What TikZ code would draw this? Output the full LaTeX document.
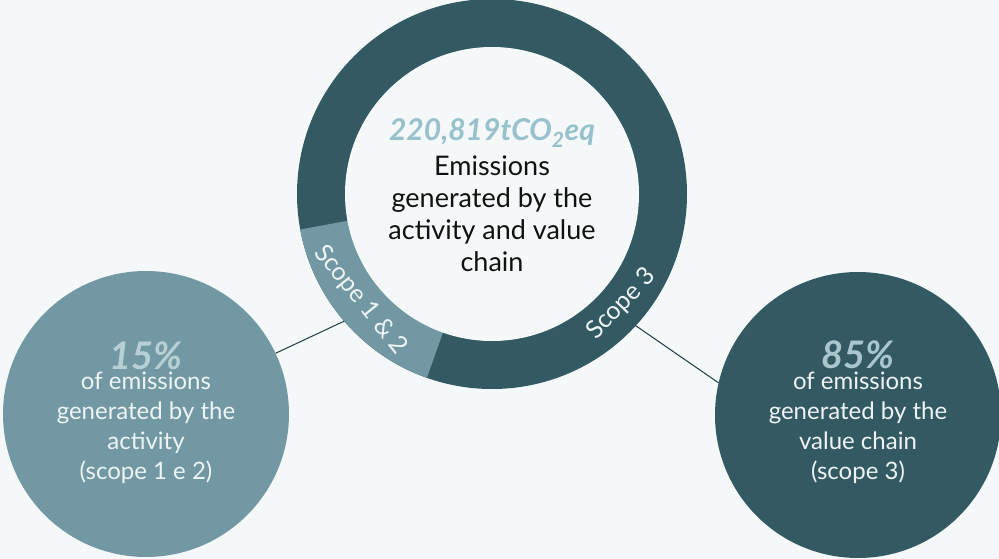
\documentclass[tikz,border=0pt]{standalone}
\usepackage{fontspec}
\setmainfont{Lato}
\usetikzlibrary{calc}
\definecolor{bg}{HTML}{F4F8F9}
\definecolor{dark}{HTML}{335963}
\definecolor{light}{HTML}{7299A3}
\definecolor{val}{HTML}{97C1CC}
\definecolor{pctl}{HTML}{B7D0D6}
\definecolor{pctd}{HTML}{A9C6CE}
\definecolor{ink}{HTML}{111111}
\definecolor{wire}{HTML}{1E3A40}
\definecolor{softwhite}{HTML}{EEF4F5}
\begin{document}
\begin{tikzpicture}[x=1pt,y=1pt,
  bubble/.style={circle, minimum size=286pt, inner sep=0pt},
  ringlabel/.style={text=softwhite, inner sep=0pt, font=\fontsize{25}{28}\selectfont},
  bubbletext/.style={text=softwhite, align=center, inner sep=0pt, font=\fontsize{24}{30}\selectfont},
  pct/.style={inner sep=0pt, font=\fontsize{38}{42}\selectfont\bfseries\itshape},
  wireline/.style={draw=wire, line width=1pt}]
\fill[bg] (0,0) rectangle (999,-559);
\useasboundingbox (0,0) rectangle (999,-559);
\coordinate (c) at (492,-194);
% donut
\fill[dark] (c) circle (195);
\fill[light] (c) -- ($(c)+(190.5:195)$) arc[start angle=190.5, end angle=250.5, radius=195] -- cycle;
\node[circle, fill=bg, minimum size=294pt, inner sep=0pt] (hole) at (c) {};
% centre texts
\node[text=val, inner sep=0pt, font=\fontsize{30}{32}\selectfont\bfseries\itshape] (total) at (492,-133) {220,819tCO\textsubscript{2}eq};
\node[text=ink, align=center, inner sep=0pt, font=\fontsize{27}{32}\selectfont] (desc) at (492,-214) {Emissions\\generated by the\\activity and value\\chain};
% ring labels
\node[ringlabel, rotate=-51] (s12) at ($(c)+(219:169)$) {Scope 1 \& 2};
\node[ringlabel, rotate=46] (s3) at ($(c)+(-40.4:170)$) {Scope 3};
% bubbles
\node[bubble, fill=light] (lb) at (146,-414) {};
\node[bubble, fill=dark] (rb) at (858,-415) {};
\node[pct, text=pctl] (lp) at (146,-356) {15\%};
\node[bubbletext] (lt) at (146,-428) {of emissions\\generated by the\\activity\\(scope 1 e 2)};
\node[pct, text=pctd] (rp) at (858,-355) {85\%};
\node[bubbletext] (rt) at (858,-428) {of emissions\\generated by the\\value chain\\(scope 3)};
% connectors
\coordinate (p1) at ($(c)+(220.7:195)$);
\coordinate (p2) at ($(c)+(-42.5:195)$);
\draw[wireline] (lb) -- (p1);
\draw[wireline] (p2) -- (rb.167);
\end{tikzpicture}
\end{document}
